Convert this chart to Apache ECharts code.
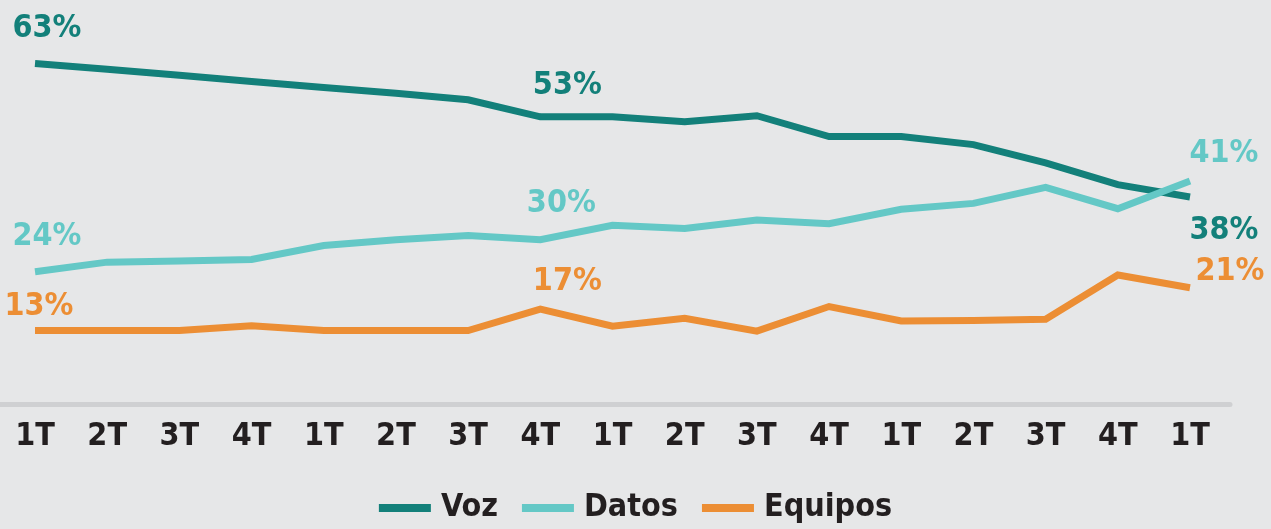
<!DOCTYPE html>
<html>
<head>
<meta charset="utf-8">
<script src="https://cdn.jsdelivr.net/npm/echarts@6/dist/echarts.min.js"></script>
<style>
    html, body { margin: 0; padding: 0; background: #e6e7e8; }
    #chart { width: 1271px; height: 529px; }
</style>
</head>
<body>
<div id="chart"></div>
<script>
    // quarters, 4 years + first quarter of the 5th
    var quarters = ['1T', '2T', '3T', '4T', '1T', '2T', '3T', '4T', '1T', '2T', '3T', '4T', '1T', '2T', '3T', '4T', '1T'];

    var voz     = [63, 61.9, 60.8, 59.6, 58.5, 57.4, 56.2, 53, 53, 52.1, 53.2, 49.3, 49.3, 47.8, 44.4, 40.3, 38];
    var datos   = [24, 25.8, 26, 26.3, 28.9, 30, 30.8, 30, 32.7, 32.1, 33.7, 33, 35.7, 36.8, 39.8, 35.8, 41];
    var equipos = [13, 13, 13, 13.9, 13, 13, 13, 17, 13.8, 15.3, 12.9, 17.5, 14.8, 14.9, 15.1, 23.4, 21];

    // points that carry a value label
    var labelIdx = [0, 7, 16];

    var font = "'Liberation Sans Narrow', 'DejaVu Sans Condensed', 'Roboto Condensed', sans-serif";
    var ink = '#231f20';

    function buildData(values, color, offsets) {
        return values.map(function (v, i) {
            var k = labelIdx.indexOf(i);
            if (k < 0) return v;
            return {
                value: v,
                label: {
                    show: true,
                    position: 'inside',
                    offset: offsets[k],
                    formatter: '{c}%',
                    color: color,
                    fontFamily: font,
                    fontWeight: 'bold',
                    fontSize: 32
                }
            };
        });
    }

    function lineSeries(name, values, color, offsets) {
        return {
            name: name,
            type: 'line',
            data: buildData(values, color, offsets),
            symbol: 'circle',
            symbolSize: 0.1,
            itemStyle: { color: color },
            lineStyle: { color: color, width: 7, join: 'miter' },
            z: 3
        };
    }

    var chart = echarts.init(document.getElementById('chart'));
    chart.setOption({
        backgroundColor: '#e6e7e8',
        animation: false,
        legend: {
            bottom: 0,
            left: 'center',
            icon: 'rect',
            itemWidth: 52,
            itemHeight: 8,
            itemGap: 24,
            textStyle: {
                color: ink,
                fontFamily: font,
                fontWeight: 'bold',
                fontSize: 32,
                padding: [0, 0, 0, 5]
            },
            data: ['Voz', 'Datos', 'Equipos']
        },
        grid: [
            { left: 35, right: 81, top: 26, bottom: 129 },
            { left: 0, right: 41, top: 26, bottom: 125 }
        ],
        xAxis: [
            {
                type: 'category',
                boundaryGap: false,
                data: quarters,
                axisLine: { show: false },
                axisTick: { show: false },
                axisLabel: {
                    color: ink,
                    fontFamily: font,
                    fontWeight: 'bold',
                    fontSize: 32,
                    margin: 21,
                    interval: 0
                }
            },
            {
                type: 'value',
                gridIndex: 1,
                axisLine: { show: true, lineStyle: { color: '#cfd0d2', width: 5 } },
                axisTick: { show: false },
                axisLabel: { show: false },
                splitLine: { show: false }
            }
        ],
        yAxis: [
            { type: 'value', min: 0, max: 70, show: false },
            { type: 'value', gridIndex: 1, show: false }
        ],
        series: [
            lineSeries('Voz', voz, '#13807a', [[12, -35], [27, -31], [34, 34]]),
            lineSeries('Datos', datos, '#64c8c6', [[12, -35], [21, -36], [34, -27]]),
            lineSeries('Equipos', equipos, '#ec8e34', [[4, -24], [27, -27], [40, -16]])
        ]
    });
</script>
</body>
</html>
